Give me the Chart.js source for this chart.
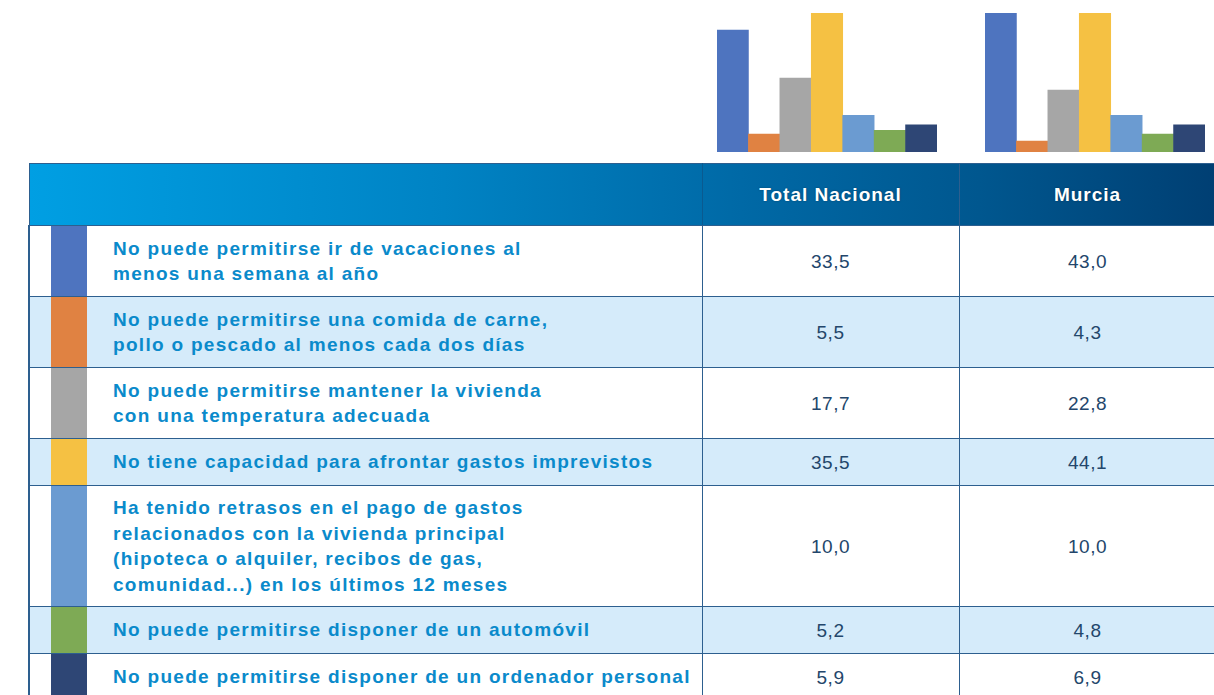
<!DOCTYPE html>
<html lang="es">
<head>
<meta charset="utf-8">
<script src="https://cdn.jsdelivr.net/npm/chart.js@4"></script>
<style>
  html, body { margin: 0; padding: 0; background: #fff; width: 1214px; height: 695px; overflow: hidden; }
  body { position: relative; font-family: "Liberation Sans", Arial, sans-serif; }
  .mini { position: absolute; top: 13px; width: 220px; height: 139px; }
  #chartNacional { left: 717px; }
  #chartMurcia { left: 985px; }
  table { position: absolute; left: 28px; top: 163px; width: 1187px; border-collapse: collapse; table-layout: fixed; }
  td, th { border: 1.5px solid #2d5f8f; padding: 0; }
  th { height: 61px; color: #fff; font-size: 19px; letter-spacing: 1px; font-weight: bold; text-shadow: 0 0 2px rgba(0,0,0,0.35); }
  thead tr { background: linear-gradient(to right, #009fe3 0%, #0083c4 35%, #0069a6 60%, #00578f 80%, #003f73 100%); }
  thead th { background: transparent; }
  td.sw { border-right: none; border-left: 2px solid #2d5f8f; }
  td.lbl { border-left: none; color: #0a8acb; font-weight: bold; font-size: 19px; letter-spacing: 1.3px; line-height: 25.5px; padding-left: 26px; text-align: left; white-space: nowrap; }
  td.val { text-align: center; color: #23466b; font-size: 19px; letter-spacing: 0.5px; padding-top: 2px; }
  tr.alt { background: #d5ebfa; }
</style>
</head>
<body>
<canvas id="chartNacional" class="mini" width="220" height="139"></canvas>
<canvas id="chartMurcia" class="mini" width="220" height="139"></canvas>
<table id="tabla">
  <colgroup>
    <col style="width:58px"><col style="width:615px"><col style="width:257px"><col style="width:257px">
  </colgroup>
  <thead>
    <tr><th colspan="2" style="border-right:1.5px solid #0a5a90"></th><th id="h1"></th><th id="h2"></th></tr>
  </thead>
  <tbody></tbody>
</table>
<script>
const columnas = ["Total Nacional", "Murcia"];

const categorias = [
  "No puede permitirse ir de vacaciones al<br>menos una semana al año",
  "No puede permitirse una comida de carne,<br>pollo o pescado al menos cada dos días",
  "No puede permitirse mantener la vivienda<br>con una temperatura adecuada",
  "No tiene capacidad para afrontar gastos imprevistos",
  "Ha tenido retrasos en el pago de gastos<br>relacionados con la vivienda principal<br>(hipoteca o alquiler, recibos de gas,<br>comunidad...) en los últimos 12 meses",
  "No puede permitirse disponer de un automóvil",
  "No puede permitirse disponer de un ordenador personal"
];

const colores = ["#4e74bf", "#e08242", "#a6a6a6", "#f5c143", "#6b9bd1", "#7eaa55", "#2e4675"];

// valores de la tabla (%)
const valoresNacional = ["33,5", "5,5", "17,7", "35,5", "10,0", "5,2", "5,9"];
const valoresMurcia = ["43,0", "4,3", "22,8", "44,1", "10,0", "4,8", "6,9"];

// alturas de las barras tal como se ven en los gráficos (recortados arriba)
const barrasNacional = [33.3, 4.9, 20.2, 38, 10.0, 5.9, 7.4];
const barrasMurcia = [38, 3.0, 16.9, 38, 10.0, 4.9, 7.4];
const ejeMax = 38;

const alturasFila = [71, 71, 71, 47, 121, 47, 47];

document.getElementById("h1").textContent = columnas[0];
document.getElementById("h2").textContent = columnas[1];

const tbody = document.querySelector("#tabla tbody");
categorias.forEach((cat, i) => {
  const tr = document.createElement("tr");
  if (i % 2 === 1) tr.className = "alt";
  tr.style.height = alturasFila[i] + "px";
  const sw = `linear-gradient(to right, transparent 21px, ${colores[i]} 21px, ${colores[i]} 58px, transparent 58px)`;
  tr.innerHTML =
    `<td class="sw" style="background:${sw}"></td>` +
    `<td class="lbl">${cat}</td>` +
    `<td class="val">${valoresNacional[i]}</td>` +
    `<td class="val">${valoresMurcia[i]}</td>`;
  tbody.appendChild(tr);
});

function miniGrafico(id, datos) {
  new Chart(document.getElementById(id), {
    type: "bar",
    data: {
      labels: categorias.map(c => c.replace(/<br>/g, " ")),
      datasets: [{
        data: datos,
        backgroundColor: colores,
        borderWidth: 0,
        barPercentage: 1,
        categoryPercentage: 1
      }]
    },
    options: {
      responsive: false,
      animation: false,
      layout: { padding: 0 },
      plugins: { legend: { display: false }, tooltip: { enabled: false } },
      scales: {
        x: { display: false },
        y: { display: false, min: 0, max: ejeMax }
      }
    }
  });
}

miniGrafico("chartNacional", barrasNacional);
miniGrafico("chartMurcia", barrasMurcia);
</script>
</body>
</html>
